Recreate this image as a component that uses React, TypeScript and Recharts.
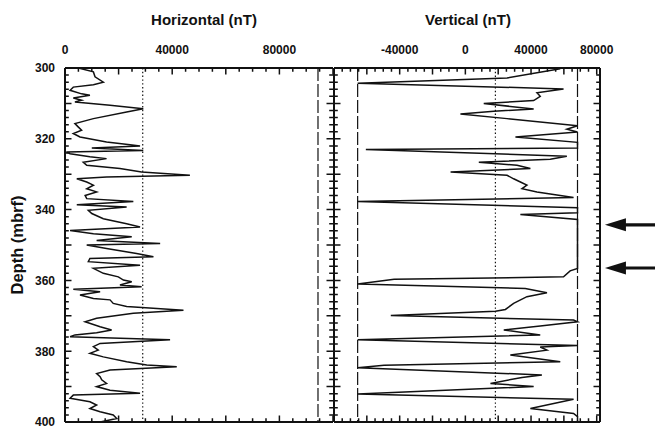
import React from 'react';
import { LineChart, Line, XAxis, YAxis, ReferenceLine, Label } from 'recharts';

// ---------- data ----------
const horizDepth = [
  300.0, 301.1, 302.5, 304.0, 304.7, 305.4, 306.3, 307.3, 307.7, 308.5, 309.1, 309.6, 310.5, 311.5, 312.4,
  314.3, 315.7, 316.7, 317.6, 318.5, 319.5, 320.9, 321.7, 322.0, 322.6, 323.3, 323.7, 324.2, 325.1, 325.6,
  326.6, 327.5, 328.4, 329.4, 330.3, 330.8, 331.3, 332.2, 333.1, 334.1, 335.0, 336.0, 336.9, 337.7, 338.6,
  339.3, 340.2, 341.1, 342.6, 344.0, 344.9, 345.9, 346.8, 347.7, 348.7, 349.6, 350.0, 351.0, 352.4, 353.3,
  353.8, 354.7, 355.7, 356.6, 358.0, 359.0, 359.9, 360.4, 361.3, 361.8, 362.5, 363.2, 364.1, 365.1, 365.5,
  366.5, 367.4, 368.4, 369.3, 370.7, 371.7, 373.1, 374.0, 374.8, 375.4, 375.9, 376.8, 377.8, 378.7, 379.7,
  380.6, 381.6, 383.0, 383.9, 384.4, 385.3, 386.3, 387.2, 388.1, 389.1, 390.0, 391.0, 391.9, 392.4, 393.3,
  394.3, 395.2, 396.2, 397.1, 398.0, 399.0, 400.0,
];
const horizValue = [
  5000, 10600, 11200, 14300, 10600, 3100, 1900, 6200, 9300, 3100, 6200, 3700, 16800, 29200, 23000,
  10600, 3700, 5000, 6200, 3100, 5600, 15500, 24300, 28000, 10000, 29200, 500, 1900, 9300, 15500,
  6800, 8100, 20500, 28600, 46600, 15500, 4400, 8100, 10600, 8100, 11800, 7500, 8100, 25500, 4400,
  23000, 8700, 10000, 14300, 23000, 28000, 1900, 10600, 24900, 11800, 35500, 8100, 15500, 26700, 33000,
  9300, 8700, 28000, 10600, 14300, 19900, 21800, 24900, 20500, 28600, 3100, 13100, 5600, 10600, 16800,
  18000, 23000, 44200, 25500, 11800, 7500, 13100, 17400, 11800, 3700, 1900, 39200, 13100, 10600, 12400,
  9300, 14300, 23000, 30500, 41700, 16800, 11800, 13100, 13700, 15500, 11800, 16800, 28000, 3100, 1900,
  9300, 11800, 9300, 13100, 18000, 19300, 13100,
];

const vertDepth = [
  300.2, 302.8, 304.3, 305.9, 307.0, 308.0, 309.2, 310.0, 311.6, 312.2, 313.0, 314.3, 316.3, 317.3, 318.1,
  319.5, 321.0, 322.6, 323.0, 324.9, 325.8, 326.6, 327.5, 328.4, 329.4, 330.3, 331.3, 332.2, 333.1, 334.1,
  335.0, 336.0, 336.6, 337.7, 339.5, 340.9, 341.4, 342.8, 344.3, 356.6, 357.3, 359.0, 359.7, 361.0, 362.3,
  363.5, 364.6, 366.5, 368.2, 368.7, 369.9, 371.2, 371.7, 372.9, 374.0, 375.4, 376.8, 378.4, 378.8, 379.7,
  381.1, 383.0, 384.0, 384.7, 386.7, 387.4, 389.1, 390.0, 392.1, 393.6, 396.2, 397.6, 398.5, 400.0,
];
const vertValue = [
  57800, 25400, -65600, 59800, 43600, 45600, 41600, 11200, 41600, 17300, -3000, 25400, 68300, 61800, 68300,
  30500, 68300, 68300, -60600, 61800, 51700, 8200, 31500, 39600, -9000, 25400, 29400, 33500, 37500, 34500,
  43600, 57800, 65900, -65600, 68300, 68300, 33500, 68300, 68300, 68300, 63800, 59800, -43400, -65600, 36500,
  49700, 37500, 29400, 24400, 18300, -45400, 65900, 68300, 45600, 23400, 45600, -65600, 68300, 45600, 49700,
  27400, 57800, -49500, -65600, 46600, 34500, 15300, 41600, -65600, 65900, 39600, 65900, 68300, 68300,
];

// ---------- axes / ticks ----------
function range(start: number, end: number, step: number): number[] {
  const out: number[] = [];
  for (let v = start; v <= end + 1e-9; v += step) out.push(Math.round(v));
  return out;
}
const depthDomain: [number, number] = [300, 400];
const depthTicks = range(300, 400, 2);
const depthLabels = [300, 320, 340, 360, 380, 400];

const horizDomain: [number, number] = [0, 100000];
const horizTicks = range(0, 100000, 5000);
const horizLabels = [0, 40000, 80000];
const horizDotted = 29000;
const horizDashDot = 94400;

const vertDomain: [number, number] = [-80000, 82000];
const vertTicks = range(-80000, 80000, 5000);
const vertLabels = [-40000, 0, 40000, 80000];
const vertDotted = 18300;
const vertDashDot = [-65600, 68300];

const arrowDepths = [344.3, 356.5];
const arrowFrom = 118000;
const arrowTo = 85000;

const horizData = horizDepth.map((depth, i) => ({ depth, h: horizValue[i] }));
const vertData = vertDepth.map((depth, i) => ({ depth, v: vertValue[i] }));

// ---------- layout ----------
const CHART_H = 430;
const MARGIN_TOP = 48;
const TOP_AXIS_H = 20;
const MARGIN_BOTTOM = 7;
const PLOT_H = CHART_H - MARGIN_TOP - TOP_AXIS_H - MARGIN_BOTTOM - 1;

const LEFT_W = 333;
const LEFT_MARGIN = 15;
const LEFT_YAXIS_W = 50;
const LEFT_PLOT_W = LEFT_W - LEFT_MARGIN - LEFT_YAXIS_W;

const RIGHT_W = 322;
const RIGHT_MARGIN_R = 54;
const RIGHT_PLOT_W = RIGHT_W - 1 - 1 - RIGHT_MARGIN_R;

// ---------- styles ----------
const INK = '#111111';
const FONT = '"Liberation Sans", Arial, Helvetica, sans-serif';
const tickText = { fontFamily: FONT, fontSize: 12, fontWeight: 700, fill: INK } as const;
const titleText = { fontFamily: FONT, fontSize: 15, fontWeight: 700, fill: INK } as const;
const depthText = { fontFamily: FONT, fontSize: 16.5, fontWeight: 700, fill: INK } as const;
const DASHDOT = '13 3';
const DOTTED = '1.4 2.4';
const TICK_W = 1.5;

// ---------- custom ticks ----------
const makeYTick = (labels: number[], plotW: number) => (props: any) => {
  const x = Number(props.x);
  const y = Number(props.y);
  const v = Number(props.payload.value);
  const len = v % 10 === 0 ? 6.5 : 3.8;
  const xr = x + plotW;
  return (
    <g>
      <path d={`M${x},${y}L${x + len},${y}M${xr - len},${y}L${xr},${y}`} stroke={INK} strokeWidth={TICK_W} fill="none" />
      {labels.includes(v) && (
        <text x={x - 10} y={y} dy="0.36em" textAnchor="end" style={tickText}>{v}</text>
      )}
    </g>
  );
};

const makeXTick = (labels: number[], plotH: number) => (props: any) => {
  const x = Number(props.x);
  const y = Number(props.y);
  const v = Number(props.payload.value);
  const len = v % 20000 === 0 ? 6.5 : 3.8;
  const yb = y + plotH;
  return (
    <g>
      <path d={`M${x},${y}L${x},${y + len}M${x},${yb - len}L${x},${yb}`} stroke={INK} strokeWidth={TICK_W} fill="none" />
      {labels.includes(v) && (
        <text x={x} y={y - 18} dy="0.36em" textAnchor="middle" style={tickText}>{v}</text>
      )}
    </g>
  );
};

const ArrowShape = (props: any) => {
  const x1 = Number(props.x1);
  const y1 = Number(props.y1);
  const x2 = Number(props.x2);
  const head = 21;
  const half = 6.5;
  return (
    <g>
      <path d={`M${x1},${y1}L${x2 + head - 2},${y1}`} stroke={INK} strokeWidth={3.2} fill="none" />
      <path d={`M${x2},${y1}L${x2 + head},${y1 - half}L${x2 + head},${y1 + half}Z`} fill={INK} stroke="none" />
    </g>
  );
};

const TitleContent = (dx: number, text: string) => (props: any) => {
  const vb = props.viewBox || {};
  const cx = vb.x + vb.width / 2 + dx;
  return (
    <text x={cx} y={vb.y - 28} dy="0.36em" textAnchor="middle" style={titleText}>{text}</text>
  );
};

const DepthTitle = (props: any) => {
  const vb = props.viewBox || {};
  const cx = vb.x + 2;
  const cy = vb.y + vb.height / 2;
  return (
    <text x={cx} y={cy} dy="0.36em" textAnchor="middle" transform={`rotate(-90 ${cx} ${cy})`} style={depthText}>
      Depth (mbrf)
    </text>
  );
};

const axisLineStyle = { stroke: INK, strokeWidth: 2 };

export default function App() {
  return (
    <div style={{ position: 'absolute', left: 0, top: 0, width: 655, height: 430, background: '#fff', fontFamily: FONT, display: 'flex' }}>
      <div style={{ position: 'relative', width: LEFT_W, height: CHART_H, flex: 'none' }}>
        <LineChart layout="vertical" width={LEFT_W} height={CHART_H} data={horizData}
          margin={{ top: MARGIN_TOP, right: 0, bottom: MARGIN_BOTTOM, left: LEFT_MARGIN }}>
          <XAxis xAxisId="top" orientation="top" type="number" domain={horizDomain}
            ticks={horizTicks} interval={0} tickSize={0} tickMargin={0} height={TOP_AXIS_H}
            axisLine={axisLineStyle} tick={makeXTick(horizLabels, PLOT_H)}>
            <Label content={TitleContent(5, 'Horizontal (nT)')} />
          </XAxis>
          <XAxis xAxisId="bottom" orientation="bottom" type="number" domain={horizDomain}
            ticks={horizTicks} interval={0} tickSize={0} height={1}
            axisLine={axisLineStyle} tick={false} />
          <YAxis yAxisId="left" orientation="left" type="number" dataKey="depth" domain={depthDomain}
            ticks={depthTicks} interval={0} tickSize={0} tickMargin={0} width={LEFT_YAXIS_W}
            axisLine={axisLineStyle} tick={makeYTick(depthLabels, LEFT_PLOT_W)}>
            <Label content={DepthTitle} />
          </YAxis>
          {depthDomain.map((d) => (
            <ReferenceLine key={`f${d}`} xAxisId="top" yAxisId="left" y={d} stroke={INK} strokeWidth={2} ifOverflow="visible" />
          ))}
          <ReferenceLine xAxisId="top" yAxisId="left" x={horizDotted} stroke={INK} strokeWidth={1.2} strokeDasharray={DOTTED} />
          <ReferenceLine xAxisId="top" yAxisId="left" x={horizDashDot} stroke={INK} strokeWidth={1.2} strokeDasharray={DASHDOT} />
          <Line xAxisId="top" yAxisId="left" dataKey="h" type="linear" stroke={INK} strokeWidth={1.5}
            dot={false} isAnimationActive={false} />
        </LineChart>
      </div>
      <div style={{ position: 'relative', width: RIGHT_W, height: CHART_H, flex: 'none' }}>
        <LineChart layout="vertical" width={RIGHT_W} height={CHART_H} data={vertData}
          margin={{ top: MARGIN_TOP, right: RIGHT_MARGIN_R, bottom: MARGIN_BOTTOM, left: 0 }}>
          <XAxis xAxisId="top" orientation="top" type="number" domain={vertDomain}
            ticks={vertTicks} interval={0} tickSize={0} tickMargin={0} height={TOP_AXIS_H}
            axisLine={axisLineStyle} tick={makeXTick(vertLabels, PLOT_H)}>
            <Label content={TitleContent(1, 'Vertical (nT)')} />
          </XAxis>
          <XAxis xAxisId="bottom" orientation="bottom" type="number" domain={vertDomain}
            ticks={vertTicks} interval={0} tickSize={0} height={1}
            axisLine={axisLineStyle} tick={false} />
          <YAxis yAxisId="l" orientation="left" type="number" dataKey="depth" domain={depthDomain}
            ticks={depthTicks} interval={0} tickSize={0} tickMargin={0} width={1}
            axisLine={axisLineStyle} tick={makeYTick([], RIGHT_PLOT_W)} />
          <YAxis yAxisId="r" orientation="right" type="number" domain={depthDomain}
            ticks={depthTicks} interval={0} tickSize={0} width={1}
            axisLine={axisLineStyle} tick={false} />
          {depthDomain.map((d) => (
            <ReferenceLine key={`f${d}`} xAxisId="top" yAxisId="l" y={d} stroke={INK} strokeWidth={2} ifOverflow="visible" />
          ))}
          <ReferenceLine xAxisId="top" yAxisId="l" x={vertDotted} stroke={INK} strokeWidth={1.2} strokeDasharray={DOTTED} />
          {vertDashDot.map((v) => (
            <ReferenceLine key={v} xAxisId="top" yAxisId="l" x={v} stroke={INK} strokeWidth={1.2} strokeDasharray={DASHDOT} />
          ))}
          <Line xAxisId="top" yAxisId="l" dataKey="v" type="linear" stroke={INK} strokeWidth={1.5}
            dot={false} isAnimationActive={false} />
          {arrowDepths.map((d) => (
            <ReferenceLine key={d} xAxisId="top" yAxisId="l" ifOverflow="visible"
              segment={[{ x: arrowFrom, y: d }, { x: arrowTo, y: d }]} shape={ArrowShape} />
          ))}
        </LineChart>
      </div>
    </div>
  );
}
